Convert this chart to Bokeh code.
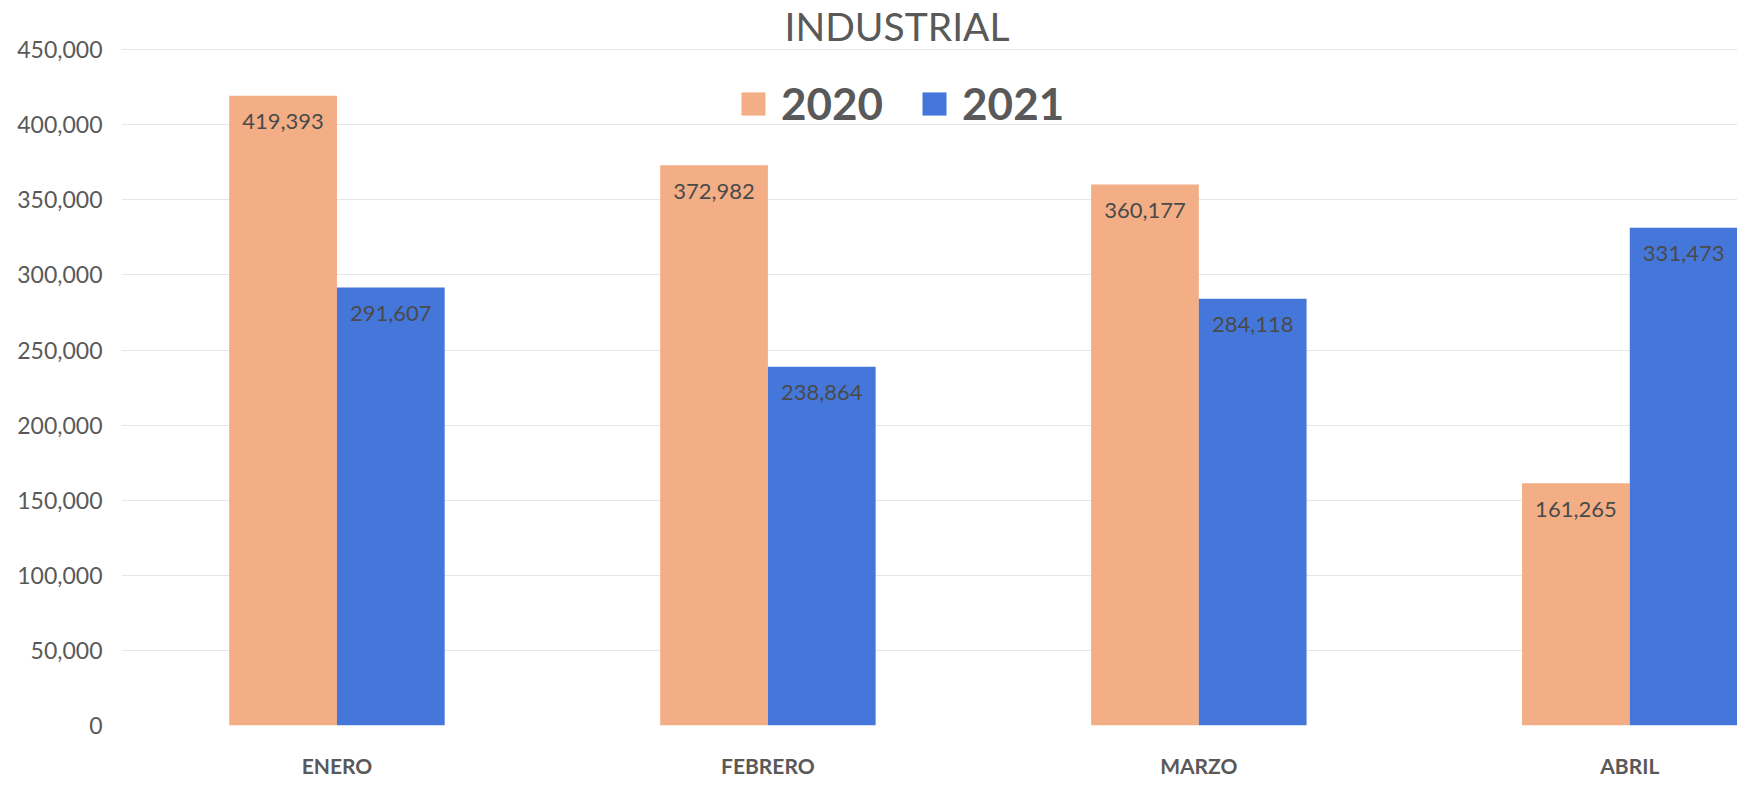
from bokeh.plotting import figure
from bokeh.models import (Range1d, FixedTicker, Legend, LegendItem, ColumnDataSource, Title,
                          NumeralTickFormatter)
from bokeh.core.properties import value
from bokeh.embed import file_html
from bokeh.resources import INLINE

months = ["ENERO", "FEBRERO", "MARZO", "ABRIL"]
series_names = ["2020", "2021"]
values_2020 = [419393, 372982, 360177, 161265]
values_2021 = [291607, 238864, 284118, 331473]
y_ticks = [0, 50000, 100000, 150000, 200000, 250000, 300000, 350000, 400000, 450000]

ORANGE = "#F3AE86"
BLUE = "#4577DB"
GRAY = "#595959"
FONT = "Lato"

centers = [i + 0.5 for i in range(len(months))]
bw = 0.25

src20 = ColumnDataSource(dict(x=[c - bw / 2 for c in centers], top=values_2020,
                              lbl=[f"{v:,}" for v in values_2020]))
src21 = ColumnDataSource(dict(x=[c + bw / 2 for c in centers], top=values_2021,
                              lbl=[f"{v:,}" for v in values_2021]))

p = figure(width=1737, height=786, output_backend="svg", toolbar_location=None,
           x_range=Range1d(0, 3.75), y_range=Range1d(0, 450800),
           min_border_left=121, min_border_right=0, min_border_bottom=61, min_border_top=0)
p.background_fill_color = "white"
p.border_fill_color = "white"
p.outline_line_color = None

p.title = Title(text="INDUSTRIAL", align="left", offset=663, text_font=FONT,
                text_font_size="39px", text_font_style="normal", text_color=GRAY, standoff=0)

r20 = p.vbar(x="x", top="top", width=bw, source=src20, fill_color=ORANGE, line_color=None)
r21 = p.vbar(x="x", top="top", width=bw, source=src21, fill_color=BLUE, line_color=None)

for s in (src20, src21):
    p.text(x="x", y="top", text="lbl", source=s, text_align="center", text_baseline="middle",
           y_offset=26, text_font=value(FONT), text_font_size="22px", text_color="#4a4a4a")

# y axis
p.yaxis.ticker = FixedTicker(ticks=y_ticks)
p.yaxis.formatter = NumeralTickFormatter(format="0,0")
p.yaxis.axis_line_color = None
p.yaxis.major_tick_line_color = None
p.yaxis.minor_tick_line_color = None
p.yaxis.major_tick_out = 0
p.yaxis.major_tick_in = 0
p.yaxis.major_label_standoff = 19
p.yaxis.major_label_text_font = FONT
p.yaxis.major_label_text_font_size = "23px"
p.yaxis.major_label_text_color = GRAY

# x axis
p.xaxis.ticker = FixedTicker(ticks=centers)
p.xaxis.major_label_overrides = {c: m for c, m in zip(centers, months)}
p.xaxis.axis_line_color = None
p.xaxis.major_tick_line_color = None
p.xaxis.minor_tick_line_color = None
p.xaxis.major_tick_out = 0
p.xaxis.major_tick_in = 0
p.xaxis.major_label_standoff = 27
p.xaxis.major_label_text_font = FONT
p.xaxis.major_label_text_font_size = "21px"
p.xaxis.major_label_text_font_style = "bold"
p.xaxis.major_label_text_color = GRAY

p.xgrid.grid_line_color = None
p.ygrid.grid_line_color = "#e6e6e6"
p.ygrid.grid_line_width = 1

legend = Legend(items=[LegendItem(label=series_names[0], renderers=[r20]),
                       LegendItem(label=series_names[1], renderers=[r21])],
                orientation="horizontal", location=(617, 596),
                glyph_width=30, glyph_height=29, label_standoff=13, spacing=36,
                padding=0, margin=0, border_line_color=None, background_fill_alpha=0,
                label_text_font=FONT, label_text_font_size="44px", label_text_font_style="bold",
                label_text_color=GRAY)
p.add_layout(legend, "center")

open("out.html", "w").write(file_html(p, INLINE))
